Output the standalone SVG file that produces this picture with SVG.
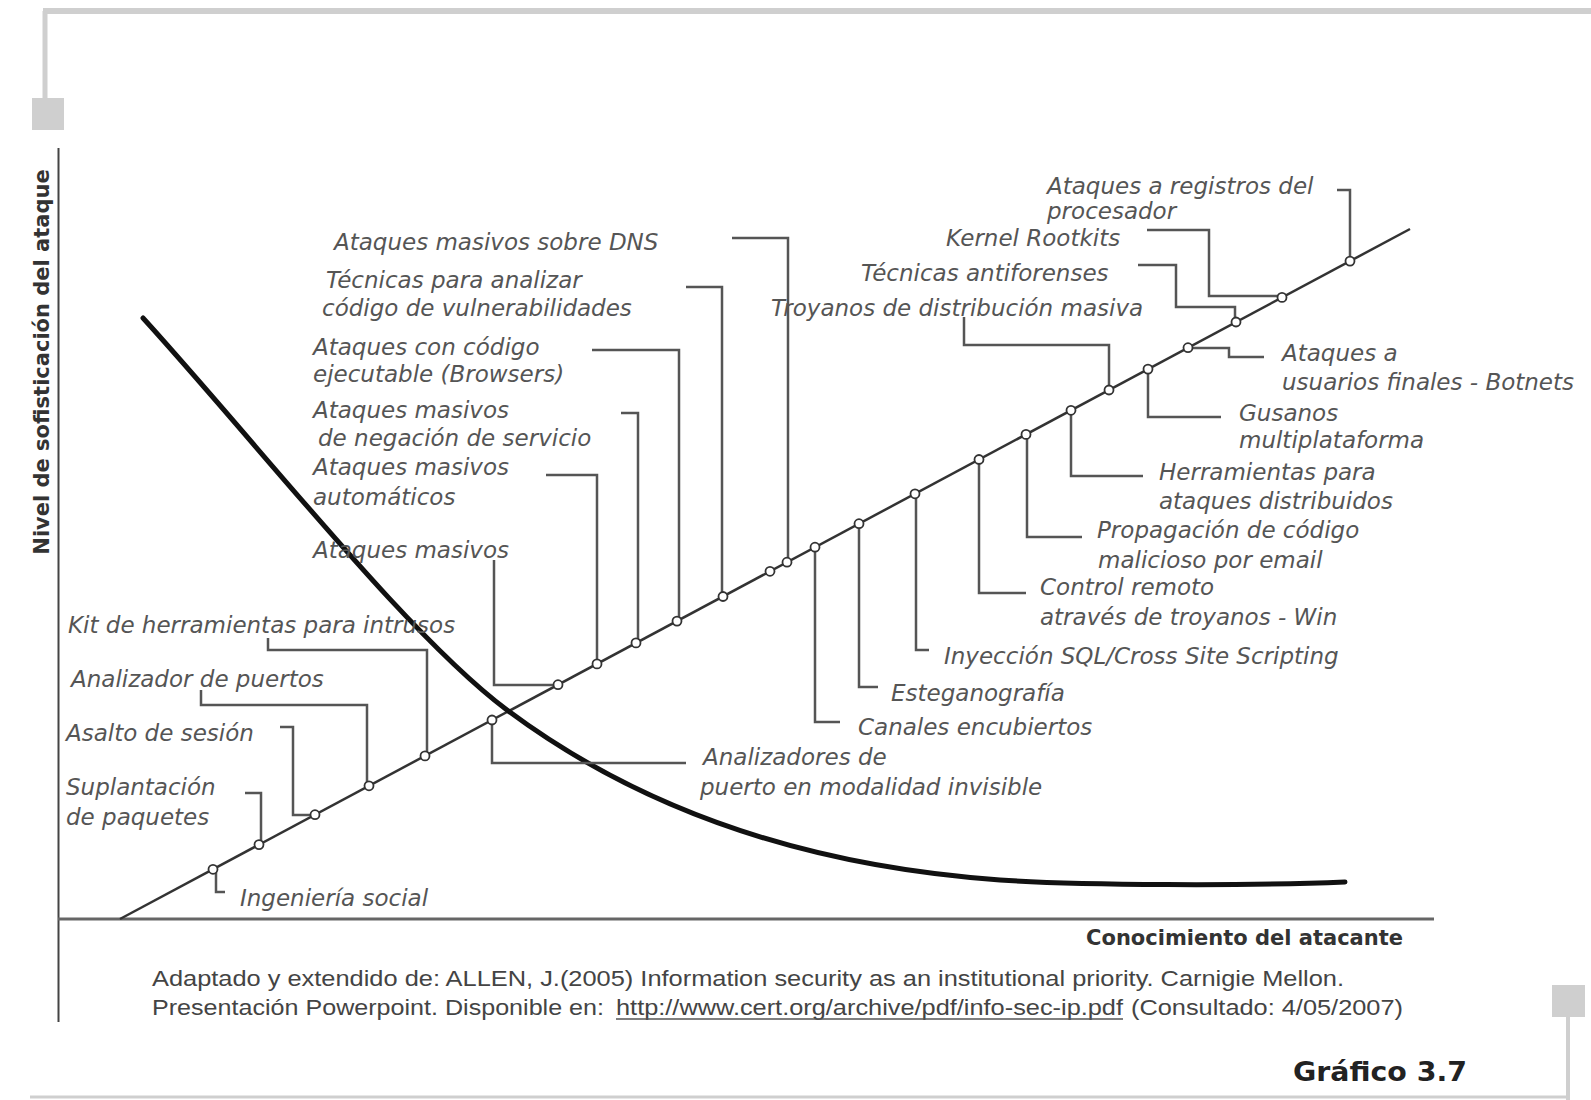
<svg xmlns="http://www.w3.org/2000/svg" width="1591" height="1100" viewBox="0 0 1591 1100">
  <style>
    .frame { stroke: #cfcfcf; fill: none; }
    .framebox { fill: #cfcfcf; }
    .lbl { font-family: "DejaVu Sans", "Liberation Sans", sans-serif; font-style: italic; font-size: 23px; fill: #555; }
    .axislbl { font-family: "DejaVu Sans", "Liberation Sans", sans-serif; font-weight: bold; font-size: 21px; fill: #333; }
    .cite { font-family: "Liberation Sans", Arial, sans-serif; font-size: 22px; fill: #444; }
    .title { font-family: "DejaVu Sans", "Liberation Sans", sans-serif; font-weight: bold; font-size: 26px; fill: #222; }
    .ldr { fill: none; stroke: #555; stroke-width: 2.5; }
    .mk { fill: #fff; stroke: #333; stroke-width: 1.8; }
  </style>

  <rect width="1591" height="1100" fill="#fff"/>

  <!-- page frame decorations -->
  <g id="frame">
    <line class="frame" x1="43" y1="11" x2="1591" y2="11" stroke-width="6"/>
    <line class="frame" x1="45" y1="11" x2="45" y2="99" stroke-width="5"/>
    <rect class="framebox" x="32" y="98" width="32" height="32"/>
    <line class="frame" x1="30" y1="1097" x2="1568" y2="1097" stroke-width="3" stroke="#dddddd"/>
    <line class="frame" x1="1568" y1="1017" x2="1568" y2="1100" stroke-width="4"/>
    <rect class="framebox" x="1552" y="985" width="33" height="32"/>
  </g>

  <!-- axes -->
  <g id="axes">
    <line x1="58.5" y1="148" x2="58.5" y2="1022" stroke="#444" stroke-width="2"/>
    <line x1="58" y1="919" x2="1434" y2="919" stroke="#666" stroke-width="3"/>
    <text class="axislbl" transform="translate(49,362) rotate(-90)" text-anchor="middle">Nivel de sofisticación del ataque</text>
    <text class="axislbl" x="1403" y="945" text-anchor="end">Conocimiento del atacante</text>
  </g>

  <!-- sophistication trend line -->
  <g id="trend">
    <line x1="120" y1="919" x2="1410" y2="229" stroke="#333" stroke-width="2.5"/>
  </g>

  <!-- attacker knowledge curve -->
  <g id="knowledge-curve">
    <path d="M143,318 C263,450 407,635 507,710 C657,822 830,868 1000,880 C1080,885.5 1250,886 1345,882" fill="none" stroke="#111" stroke-width="5" stroke-linecap="round"/>
  </g>

  <!-- leader lines from labels to the trend line -->
  <g id="connectors">
    <path class="ldr" d="M216,869 V892 H225"/>
    <path class="ldr" d="M245,793 H261 V845"/>
    <path class="ldr" d="M280,727 H293 V815 H315"/>
    <path class="ldr" d="M201,690 V705 H367 V786"/>
    <path class="ldr" d="M268,638 V650 H427 V756"/>
    <path class="ldr" d="M492,720 V763 H686"/>
    <path class="ldr" d="M494,560 V685 H558"/>
    <path class="ldr" d="M546,475 H597 V664"/>
    <path class="ldr" d="M621,413 H638 V643"/>
    <path class="ldr" d="M592,350 H679 V621"/>
    <path class="ldr" d="M686,287 H722 V596"/>
    <path class="ldr" d="M732,238 H788 V562"/>
    <path class="ldr" d="M815,547 V722 H840"/>
    <path class="ldr" d="M859,524 V687 H878"/>
    <path class="ldr" d="M916,494 V650 H929"/>
    <path class="ldr" d="M979,460 V593 H1026"/>
    <path class="ldr" d="M1027,434 V537 H1082"/>
    <path class="ldr" d="M1071,410 V476 H1143"/>
    <path class="ldr" d="M964,317 V345 H1109 V390"/>
    <path class="ldr" d="M1148,369 V417 H1221"/>
    <path class="ldr" d="M1188,348 H1229 V357 H1264"/>
    <path class="ldr" d="M1138,265 H1176 V307 H1235 V322"/>
    <path class="ldr" d="M1147,230 H1209 V296 H1282"/>
    <path class="ldr" d="M1337,190 H1350 V261"/>
  </g>

  <!-- events along the trend line -->
  <g id="n-ingenieria">
    <circle class="mk" cx="213" cy="869.3" r="4.5"/>
    <text class="lbl" x="240" y="906">Ingeniería social</text>
  </g>
  <g id="n-suplantacion">
    <circle class="mk" cx="259" cy="844.6" r="4.5"/>
    <text class="lbl" x="66" y="795">Suplantación</text>
    <text class="lbl" x="66" y="825">de paquetes</text>
  </g>
  <g id="n-asalto">
    <circle class="mk" cx="315" cy="814.7" r="4.5"/>
    <text class="lbl" x="66" y="741">Asalto de sesión</text>
  </g>
  <g id="n-analizador">
    <circle class="mk" cx="369" cy="785.8" r="4.5"/>
    <text class="lbl" x="71" y="687">Analizador de puertos</text>
  </g>
  <g id="n-kit">
    <circle class="mk" cx="425" cy="755.9" r="4.5"/>
    <text class="lbl" x="68" y="633">Kit de herramientas para intrusos</text>
  </g>
  <g id="n-invisible">
    <circle class="mk" cx="492" cy="720" r="4.5"/>
    <text class="lbl" x="703" y="765">Analizadores de</text>
    <text class="lbl" x="700" y="795">puerto en modalidad invisible</text>
  </g>
  <g id="n-masivos">
    <circle class="mk" cx="558" cy="684.7" r="4.5"/>
    <text class="lbl" x="313" y="558">Ataques masivos</text>
  </g>
  <g id="n-automaticos">
    <circle class="mk" cx="597" cy="663.9" r="4.5"/>
    <text class="lbl" x="313" y="475">Ataques masivos</text>
    <text class="lbl" x="313" y="505">automáticos</text>
  </g>
  <g id="n-negacion">
    <circle class="mk" cx="636" cy="642.9" r="4.5"/>
    <text class="lbl" x="313" y="418">Ataques masivos</text>
    <text class="lbl" x="318" y="446">de negación de servicio</text>
  </g>
  <g id="n-browsers">
    <circle class="mk" cx="677" cy="621.1" r="4.5"/>
    <text class="lbl" x="313" y="355">Ataques con código</text>
    <text class="lbl" x="313" y="382">ejecutable (Browsers)</text>
  </g>
  <g id="n-vulnerabilidades">
    <circle class="mk" cx="723" cy="596.5" r="4.5"/>
    <text class="lbl" x="326" y="288">Técnicas para analizar</text>
    <text class="lbl" x="322" y="316">código de vulnerabilidades</text>
  </g>
  <g id="n-dns">
    <circle class="mk" cx="770" cy="571.3" r="4.5"/>
    <circle class="mk" cx="787" cy="562.2" r="4.5"/>
    <text class="lbl" x="334" y="250">Ataques masivos sobre DNS</text>
  </g>
  <g id="n-canales">
    <circle class="mk" cx="815" cy="547.2" r="4.5"/>
    <text class="lbl" x="858" y="735">Canales encubiertos</text>
  </g>
  <g id="n-esteganografia">
    <circle class="mk" cx="859" cy="523.7" r="4.5"/>
    <text class="lbl" x="891" y="701">Esteganografía</text>
  </g>
  <g id="n-sql">
    <circle class="mk" cx="915" cy="493.8" r="4.5"/>
    <text class="lbl" x="944" y="664">Inyección SQL/Cross Site Scripting</text>
  </g>
  <g id="n-control">
    <circle class="mk" cx="979" cy="459.5" r="4.5"/>
    <text class="lbl" x="1040" y="595">Control remoto</text>
    <text class="lbl" x="1040" y="625">através de troyanos - Win</text>
  </g>
  <g id="n-email">
    <circle class="mk" cx="1026" cy="434.4" r="4.5"/>
    <text class="lbl" x="1097" y="538">Propagación de código</text>
    <text class="lbl" x="1098" y="568">malicioso por email</text>
  </g>
  <g id="n-distribuidos">
    <circle class="mk" cx="1071" cy="410.3" r="4.5"/>
    <text class="lbl" x="1159" y="480">Herramientas para</text>
    <text class="lbl" x="1159" y="509">ataques distribuidos</text>
  </g>
  <g id="n-troyanos">
    <circle class="mk" cx="1109" cy="390" r="4.5"/>
    <text class="lbl" x="771" y="316">Troyanos de distribución masiva</text>
  </g>
  <g id="n-gusanos">
    <circle class="mk" cx="1148" cy="369.1" r="4.5"/>
    <text class="lbl" x="1239" y="421">Gusanos</text>
    <text class="lbl" x="1239" y="448">multiplataforma</text>
  </g>
  <g id="n-botnets">
    <circle class="mk" cx="1188" cy="347.7" r="4.5"/>
    <text class="lbl" x="1282" y="361">Ataques a</text>
    <text class="lbl" x="1282" y="390">usuarios finales - Botnets</text>
  </g>
  <g id="n-antiforenses">
    <circle class="mk" cx="1236" cy="322" r="4.5"/>
    <text class="lbl" x="861" y="281">Técnicas antiforenses</text>
  </g>
  <g id="n-rootkits">
    <circle class="mk" cx="1282" cy="297.4" r="4.5"/>
    <text class="lbl" x="946" y="246">Kernel Rootkits</text>
  </g>
  <g id="n-registros">
    <circle class="mk" cx="1350" cy="261.1" r="4.5"/>
    <text class="lbl" x="1047" y="194">Ataques a registros del</text>
    <text class="lbl" x="1047" y="219">procesador</text>
  </g>

  <!-- source note -->
  <g id="source">
    <text class="cite" x="152" y="986" textLength="1192" lengthAdjust="spacingAndGlyphs">Adaptado y extendido de: ALLEN, J.(2005) Information security as an institutional priority. Carnigie Mellon.</text>
    <text class="cite" x="152" y="1015" textLength="452" lengthAdjust="spacingAndGlyphs">Presentación Powerpoint. Disponible en:</text>
    <text class="cite" x="616" y="1015" textLength="507" lengthAdjust="spacingAndGlyphs">http://www.cert.org/archive/pdf/info-sec-ip.pdf</text>
    <line x1="616" y1="1019" x2="1123" y2="1019" stroke="#555" stroke-width="1.5"/>
    <text class="cite" x="1131" y="1015" textLength="272" lengthAdjust="spacingAndGlyphs">(Consultado: 4/05/2007)</text>
  </g>

  <text class="title" x="1293" y="1081" textLength="174" lengthAdjust="spacingAndGlyphs">Gráfico 3.7</text>
</svg>
